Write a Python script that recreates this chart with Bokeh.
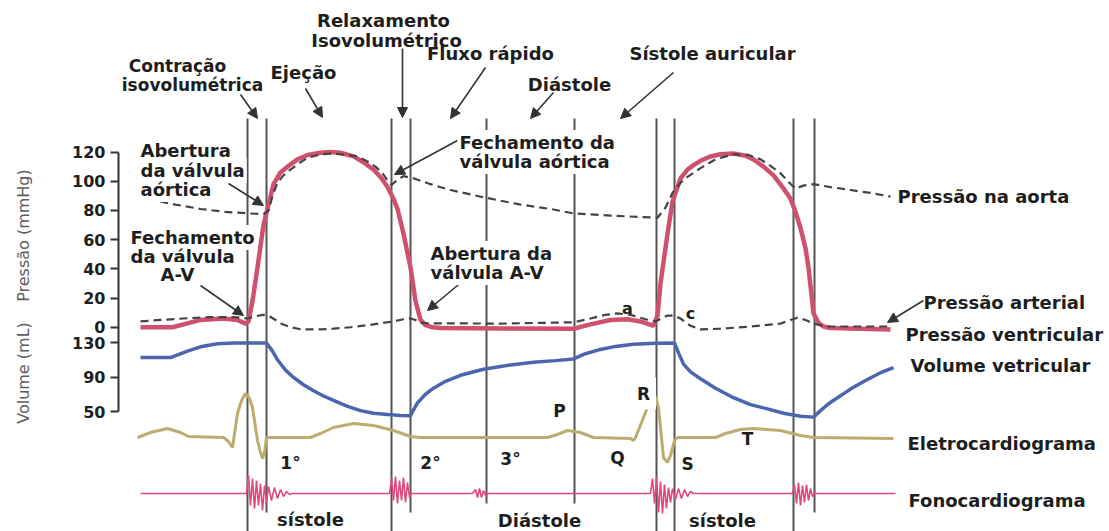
from bokeh.plotting import figure
from bokeh.models import Range1d, FixedTicker, Label, Arrow, NormalHead
from bokeh.embed import file_html
from bokeh.resources import INLINE

# ---------------------------------------------------------------- data
# time axis in ms, two consecutive cardiac cycles

# ventricular pressure (mmHg)
t_vent = [44, 108, 136, 164, 210, 238, 254, 260, 268, 278, 290, 298, 310, 324, 338, 358,
          378, 404, 424, 444, 470, 490, 510, 526, 538, 550, 558, 570, 584, 594, 604, 614,
          628, 644, 764, 910, 944, 984, 1018, 1044, 1070, 1078, 1084, 1098, 1108, 1124,
          1138, 1150, 1164, 1184, 1204, 1230, 1254, 1270, 1290, 1310, 1328, 1344, 1354,
          1364, 1374, 1380, 1386, 1390, 1400, 1410, 1424, 1544]
p_vent = [0, 0, 2.5, 5, 6, 5, 2.5, 4, 18, 41, 70, 81, 98, 106, 110, 115,
          118, 119.5, 120, 119.5, 117, 113, 108, 102, 96, 88, 81, 64, 41, 18, 5, 1.5,
          0, -0.5, -0.8, -1, 2, 5, 5.5, 4, 1, 8, 30, 64, 86, 102,
          108, 111, 114, 117, 118.5, 119, 117.5, 115, 110, 104, 96, 88, 79,
          68, 54, 41, 22, 9.5, 3, 0.5, -0.5, -1.5]

# aortic pressure (mmHg)
t_aorta = [58, 114, 164, 214, 258, 290, 300, 308, 318, 330, 344, 364, 378, 404, 430, 458,
           478, 498, 514, 528, 540, 546, 558, 570, 590, 624, 664, 730, 804, 864, 910, 984,
           1044, 1078, 1094, 1108, 1124, 1138, 1164, 1194, 1230, 1260, 1284, 1304, 1324,
           1340, 1354, 1370, 1390, 1424, 1464, 1504, 1544]
p_aorta = [88, 84, 81, 79, 78, 77.5, 80, 90, 99, 104, 108, 113, 116, 118.5, 119, 118,
           117, 113.5, 110, 105.5, 99.5, 97.5, 101, 103.5, 102, 98, 94, 89, 84, 81, 78, 76.5,
           75.5, 75, 82, 92, 99, 103, 109, 115, 118.5, 118, 115, 110.5, 105.5,
           99.5, 95, 97, 98, 96, 94, 92, 89.5]

# atrial pressure (mmHg)
t_atrio = [44, 84, 130, 184, 230, 258, 274, 288, 300, 314, 328, 344, 364, 404, 430, 464,
           498, 524, 550, 570, 584, 594, 604, 624, 764, 910, 944, 974, 998, 1024, 1054,
           1074, 1088, 1098, 1110, 1124, 1144, 1164, 1204, 1264, 1324, 1344, 1358, 1374,
           1390, 1414, 1544]
p_atrio = [4, 5, 6, 7, 7, 6, 7.5, 8.5, 8, 5, 2, 0, -1.4, -1.5, -1, 0,
           1.4, 2.7, 4, 5.5, 6, 5, 3, 2.7, 2.5, 3.4, 6, 8.5, 9.5, 8.5, 5.5,
           4, 6.5, 8, 8, 6, 1, -1.5, -1, 0.5, 2.5, 5, 6.5, 5,
           2.5, 0.5, 0.5]

# ventricular volume (mL)
t_vol = [44, 104, 138, 164, 198, 234, 258, 296, 308, 318, 334, 350, 370, 390, 410, 430,
         458, 484, 510, 538, 564, 584, 590, 598, 614, 630, 654, 684, 730, 784, 830, 874,
         910, 934, 964, 994, 1030, 1074, 1112, 1120, 1130, 1144, 1164, 1194, 1230, 1264,
         1298, 1330, 1364, 1390, 1404, 1420, 1438, 1464, 1494, 1524, 1550]
v_vol = [112.5, 112.5, 120, 125, 128.5, 129.5, 129.5, 129.5, 120, 110, 98, 89.5, 81, 74, 68, 63,
         56, 51, 48, 46.5, 45.5, 45, 52, 60, 70, 77, 85, 92, 99, 104, 107, 109,
         111, 117, 122, 125.5, 128, 129, 129.5, 118, 105, 96, 88, 77, 66, 58,
         53, 48, 44.5, 43.5, 51, 59, 66, 76, 86, 95, 101]

# electrocardiogram (mV)
t_ecg = [38, 64, 98, 124, 140, 210, 220, 228, 238, 246, 254, 262, 268, 278, 284, 288,
         292, 296, 384, 404, 430, 470, 510, 550, 584, 604, 858, 878, 898, 924, 950,
         1024, 1030, 1034, 1058, 1068, 1074, 1080, 1090, 1098, 1104, 1112, 1118, 1194,
         1214, 1244, 1270, 1324, 1364, 1390, 1550]
e_ecg = [0, 0.125, 0.225, 0.125, 0.025, 0, -0.1, -0.25, 0.6, 0.925, 1.1, 0.975, 0.75, -0.075, -0.375, -0.525,
         -0.375, 0, 0, 0.1, 0.25, 0.35, 0.3, 0.175, 0.025, 0, 0, 0.075, 0.175, 0.125, 0,
         -0.025, -0.075, 0, 0.75, 1.05, 1.0, 0.75, -0.5, -0.625, -0.45, -0.075, 0, 0,
         0.1, 0.2, 0.225, 0.175, 0.05, 0, -0.025]

# phonocardiogram (relative amplitude): 1st, 2nd, 3rd heart sounds
t_fono = [44, 256, 260, 264, 268, 272, 276, 280, 284, 288, 292, 296, 300, 306, 312, 318,
          324, 330, 336, 342, 348,
          542, 546, 550, 554, 558, 562, 566, 570, 574, 578, 582, 586,
          708, 714, 718, 722, 726, 730, 734, 740,
          1064, 1068, 1072, 1076, 1080, 1084, 1088, 1092, 1096, 1100, 1104, 1108, 1114,
          1120, 1126, 1132, 1138, 1144, 1150,
          1348, 1352, 1356, 1360, 1364, 1368, 1372, 1376, 1380, 1384, 1388, 1392, 1554]
f_fono = [0, 0, 1.8, -1.2, 1.5, -1.5, 1.3, -1.2, 1.0, -1.7, 0.8, -0.9, 0.7, -0.7, 0.6, -0.5,
          0.4, -0.3, 0.2, -0.1, 0,
          0, 1.5, -0.7, 1.7, -1.0, 1.3, -0.7, 1.6, -0.9, 1.1, -0.4, 0,
          0, 0.4, -0.4, 0.5, -0.4, 0.3, -0.2, 0,
          0, 1.5, -1.0, 1.6, -1.9, 1.2, -2.0, 0.9, -1.5, 0.6, -0.9, 0.5, -0.6,
          0.5, -0.5, 0.4, -0.3, 0.2, 0,
          0, 0.9, -1.0, 1.1, -1.2, 0.8, -0.9, 0.9, -0.7, 0.5, -0.3, 0, 0]

# phase boundaries (valve events), ms
events_ms = [258, 296, 546, 584, 736, 912, 1076, 1112, 1350, 1392]

pressure_ticks = [0, 20, 40, 60, 80, 100, 120]
volume_ticks = [50, 90, 130]

# ---------------------------------------------------------------- layout
W, H, LEFT = 1109, 531, 118
T_RANGE = (0, 1982)
P_RANGE = (-139.9, 223.8)
V_RANGE = (-89.1, 526.5)
ECG_RANGE = (-2.35, 10.925)
FONO_RANGE = (-3.8, 49.3)

FONT = "DejaVu Sans"
INK = "#1e1e1e"
GUIDE = "#555555"
NBSP = "\u00a0"

p = figure(width=W, height=H,
           x_range=Range1d(*T_RANGE), y_range=Range1d(*P_RANGE),
           x_axis_location=None, y_axis_location="left",
           min_border_left=LEFT, min_border_right=0,
           min_border_top=0, min_border_bottom=0,
           output_backend="svg", toolbar_location=None)
p.extra_y_ranges = {"vol": Range1d(*V_RANGE),
                    "ecg": Range1d(*ECG_RANGE),
                    "fono": Range1d(*FONO_RANGE)}
p.xgrid.visible = False
p.ygrid.visible = False
p.outline_line_color = None
p.background_fill_color = "white"
p.border_fill_color = "white"


def cx(px):
    """canvas column (px) -> time (ms)"""
    return T_RANGE[0] + (px - LEFT) * (T_RANGE[1] - T_RANGE[0]) / (W - LEFT)


def cy(py):
    """canvas row (px from top) -> pressure units"""
    return P_RANGE[1] - py * (P_RANGE[1] - P_RANGE[0]) / H


def vol_to_p(v):
    return P_RANGE[0] + (v - V_RANGE[0]) * (P_RANGE[1] - P_RANGE[0]) / (V_RANGE[1] - V_RANGE[0])


# ---------------------------------------------------------------- phase lines
line_bottoms = [531, 512, 531, 512, 503, 503, 531, 531, 531, 512]
p.segment(x0=events_ms, y0=[cy(118)] * len(events_ms),
          x1=events_ms, y1=[cy(b) for b in line_bottoms],
          line_color=GUIDE, line_width=2)

# ---------------------------------------------------------------- traces
p.line(t_vol, v_vol, y_range_name="vol", line_color="#4a67ad", line_width=3.5)
p.line(t_ecg, e_ecg, y_range_name="ecg", line_color="#bcad6e", line_width=3)
p.line(t_fono, f_fono, y_range_name="fono", line_color="#e04a7a", line_width=1.6)
p.line(t_vent, p_vent, line_color="#d0506f", line_width=4.5)
p.line(t_aorta, p_aorta, line_color="#444444", line_width=2.2, line_dash="8 5")
p.line(t_atrio, p_atrio, line_color="#444444", line_width=2.2, line_dash="8 5")

# ---------------------------------------------------------------- axis
# one bracketed scale carries both the pressure and the volume ticks
ax = p.yaxis[0]
vol_pos = [vol_to_p(v) for v in volume_ticks]
ax.ticker = FixedTicker(ticks=pressure_ticks + vol_pos, minor_ticks=[])
ax.major_label_overrides = {pos: str(v) for pos, v in zip(vol_pos, volume_ticks)}
ax.bounds = (min(vol_pos), max(pressure_ticks))
ax.axis_line_color = "#333333"
ax.axis_line_width = 2
ax.major_tick_line_color = "#333333"
ax.major_tick_line_width = 2
ax.major_tick_out = 8
ax.major_tick_in = 0
ax.minor_tick_out = 0
ax.minor_tick_in = 0
ax.major_label_standoff = 5
ax.major_label_text_font = FONT
ax.major_label_text_font_style = "bold"
ax.major_label_text_font_size = "16px"
ax.major_label_text_color = INK
ax.axis_label = "Volume (mL)" + NBSP * 4 + "Pressão (mmHg)" + NBSP * 12
ax.axis_label_text_font = FONT
ax.axis_label_text_font_style = "normal"
ax.axis_label_text_font_size = "16px"
ax.axis_label_text_color = "#5e5e5e"
ax.axis_label_standoff = 36

# ---------------------------------------------------------------- arrows
def pointer(x0, y0, x1, y1):
    p.add_layout(Arrow(x_start=cx(x0), y_start=cy(y0), x_end=cx(x1), y_end=cy(y1),
                       line_color="#333333", line_width=1.6,
                       end=NormalHead(size=10, fill_color="#333333",
                                      line_color="#333333", line_width=1)))


pointer(240, 94, 257, 118)
pointer(305, 88, 322, 117)
pointer(402, 48, 402, 117)
pointer(485, 67, 450, 118)
pointer(553, 92, 530, 118)
pointer(673, 72, 620, 118)
pointer(228, 183, 263, 205)
pointer(457, 140, 394, 174)
pointer(200, 285, 243, 315)
pointer(463, 280, 427, 310)
pointer(923, 300, 887, 322)

# ---------------------------------------------------------------- labels
def note(text, x, y, align="left", bg=False, size="18px", pad=2):
    kw = dict(background_fill_color="white", padding=pad) if bg else {}
    p.add_layout(Label(x=cx(x), y=cy(y), text=text, text_align=align,
                       text_baseline="middle", text_font=FONT,
                       text_font_style="bold", text_font_size=size,
                       text_color=INK, **kw))


note("Relaxamento", 383, 20, "center")
note("Isovolumétrico", 386, 40, "center")
note("Contração", 177, 65, "center", size="17px")
note("isovolumétrica", 192, 84, "center", size="17px")
note("Ejeção", 303, 72, "center")
note("Fluxo rápido", 490, 53, "center")
note("Diástole", 569, 84, "center")
note("Sístole auricular", 712, 53, "center")

note("Abertura", 138, 150, bg=True)
note("da válvula", 138, 170, bg=True)
note("aórtica", 138, 189, bg=True)
note("Fechamento da", 457, 142, bg=True)
note("válvula aórtica", 457, 161, bg=True)
note("Fechamento", 128, 237, bg=True)
note("da válvula", 128, 256, bg=True)
note("A-V", 177, 274, "center", bg=True)
note("Abertura da", 428, 253, bg=True)
note("válvula A-V", 428, 272, bg=True)

note("Pressão na aorta", 897, 196)
note("Pressão arterial", 923, 302)
note("Pressão ventricular", 905, 334)
note("Volume vetricular", 910, 365)
note("Eletrocardiograma", 907, 443)
note("Fonocardiograma", 908, 500)

note("a", 627, 308, "center", size="16px")
note("c", 690, 313, "center", size="16px")
note("P", 559, 410, "center", size="17px")
note("R", 643, 393, "center", bg=True, size="17px", pad=6)
note("Q", 617, 457, "center", size="17px")
note("S", 687, 463, "center", size="17px")
note("T", 747, 438, "center", size="17px")
note("1°", 290, 462, "center", size="17px")
note("2°", 430, 462, "center", size="17px")
note("3°", 510, 458, "center", size="17px")
note("sístole", 310, 519, "center")
note("Diástole", 539, 520, "center")
note("sístole", 722, 520, "center")

open("out.html", "w").write(file_html(p, INLINE))
